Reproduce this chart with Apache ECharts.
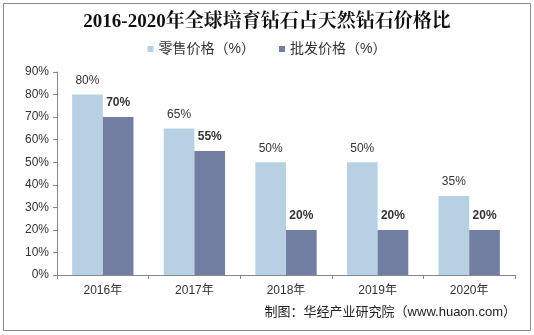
<!DOCTYPE html>
<html>
<head>
<meta charset="utf-8">
<script src="https://cdn.jsdelivr.net/npm/echarts@6/dist/echarts.min.js"></script>
<style>
  html, body { margin: 0; padding: 0; background: #fff; }
  #chart { width: 534px; height: 335px; }
</style>
</head>
<body>
<div id="chart"></div>
<script>
// Years on the category axis
const years = ['2016年', '2017年', '2018年', '2019年', '2020年'];
// Lab-grown vs natural diamond price ratio (%)
const retailRatio = [80, 65, 50, 50, 35];
const wholesaleRatio = [70, 55, 20, 20, 20];
// Series names
const retailName = '零售价格（%）';
const wholesaleName = '批发价格（%）';

const chart = echarts.init(document.getElementById('chart'), null, { renderer: 'canvas' });
const sans = '"Liberation Sans", Arial, "Noto Sans CJK SC", sans-serif';

chart.setOption({
  animation: false,
  backgroundColor: '#fff',
  title: {
    text: '2016-2020年全球培育钻石占天然钻石价格比',
    left: 'center',
    top: 8,
    textStyle: {
      fontFamily: '"Liberation Serif", "Noto Serif CJK SC", "Noto Sans CJK SC", serif',
      fontSize: 19,
      fontWeight: 'bold',
      color: '#111'
    }
  },
  legend: {
    top: 37,
    left: 'center',
    itemWidth: 6,
    itemHeight: 6,
    itemGap: 24,
    icon: 'rect',
    textStyle: { fontFamily: sans, fontSize: 14, color: '#333' },
    data: [retailName, wholesaleName]
  },
  grid: { left: 57, right: 19, top: 72, bottom: 60 },
  xAxis: {
    type: 'category',
    data: years,
    axisLine: { lineStyle: { color: '#888' } },
    axisTick: { show: true, length: 4, lineStyle: { color: '#888' } },
    axisLabel: { fontFamily: sans, fontSize: 12, color: '#333', margin: 10 }
  },
  yAxis: {
    type: 'value',
    min: 0,
    max: 90,
    interval: 10,
    axisLine: { show: true, lineStyle: { color: '#888' } },
    axisTick: { show: true, length: 4, lineStyle: { color: '#888' } },
    splitLine: { show: false },
    axisLabel: { fontFamily: sans, fontSize: 12, color: '#333', formatter: '{value}%', margin: 8 }
  },
  series: [
    {
      name: retailName,
      type: 'bar',
      data: retailRatio,
      barGap: '0%',
      barCategoryGap: '33%',
      itemStyle: { color: '#b7d1e3' },
      label: {
        show: true, position: 'top', distance: 8, formatter: '{c}%',
        fontFamily: sans, fontSize: 12, color: '#333'
      }
    },
    {
      name: wholesaleName,
      type: 'bar',
      data: wholesaleRatio,
      itemStyle: { color: '#737fa2' },
      label: {
        show: true, position: 'top', distance: 8, formatter: '{c}%',
        fontFamily: sans, fontSize: 12, fontWeight: 'bold', color: '#333'
      }
    }
  ],
  graphic: [
    {
      type: 'rect',
      shape: { x: 3.5, y: 3.5, width: 527, height: 327 },
      style: { fill: null, stroke: '#8a8a8a', lineWidth: 1 },
      silent: true
    },
    {
      type: 'text',
      right: 18,
      top: 306,
      style: {
        text: '制图：华经产业研究院（www.huaon.com）',
        fontFamily: sans,
        fontSize: 13,
        fill: '#222'
      }
    }
  ]
});
</script>
</body>
</html>
